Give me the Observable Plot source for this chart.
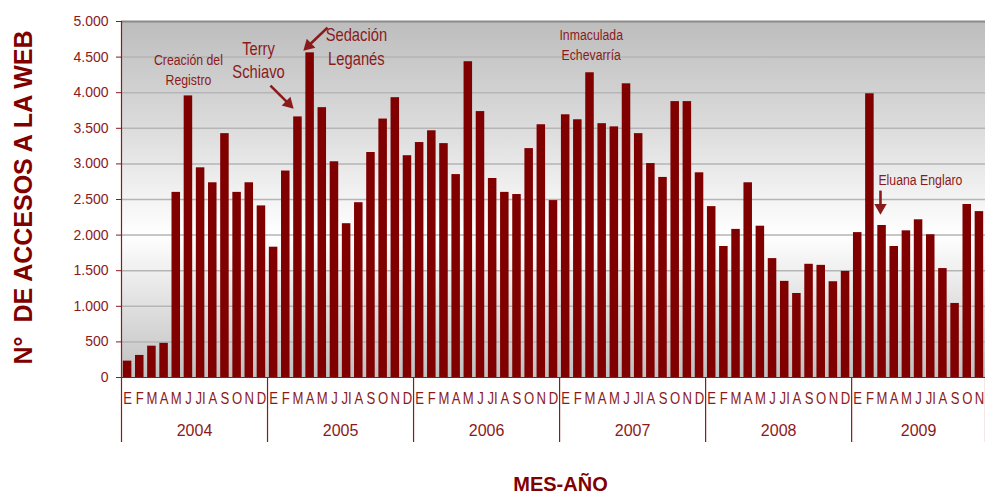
<!DOCTYPE html>
<html>
<head>
<meta charset="utf-8">
<script src="https://cdn.jsdelivr.net/npm/d3@7"></script>
<script src="https://cdn.jsdelivr.net/npm/@observablehq/plot@0.6"></script>
<style>
  html, body { margin: 0; padding: 0; background: #ffffff; }
  #chart { width: 985px; height: 497px; }
</style>
</head>
<body>
<div id="chart"></div>
<script>
// ---- Data ----
const years = ["2004", "2005", "2006", "2007", "2008", "2009"];
const monthLabels = ["E", "F", "M", "A", "M", "J", "JI", "A", "S", "O", "N", "D"];
const accesos2004 = [230, 310, 440, 480, 2600, 3955, 2945, 2735, 3425, 2600, 2735, 2410];
const accesos2005 = [1830, 2900, 3660, 4560, 3790, 3030, 2160, 2455, 3160, 3630, 3930, 3115];
const accesos2006 = [3300, 3465, 3285, 2850, 4435, 3735, 2795, 2600, 2570, 3215, 3550, 2485];
const accesos2007 = [3690, 3620, 4280, 3565, 3520, 4125, 3425, 3005, 2810, 3875, 3875, 2875];
const accesos2008 = [2400, 1840, 2080, 2735, 2125, 1670, 1350, 1180, 1590, 1575, 1345, 1490];
const accesos2009 = [2035, 3985, 2135, 1840, 2060, 2215, 2005, 1530, 1040, 2430, 2330];
const yTicks = [0, 500, 1000, 1500, 2000, 2500, 3000, 3500, 4000, 4500, 5000];

// annotations (data space: month index, value)
const annotationTexts = [
  {label: "Creación del\nRegistro", i: 5, value: 4338, size: 15, lh: 1.33, anchor: "middle"},
  {label: "Terry\nSchiavo", i: 10.76, value: 4472, size: 18, lh: 1.3, anchor: "middle"},
  {label: "Sedación\nLeganés", i: 18.8, value: 4668, size: 18, lh: 1.33, anchor: "middle"},
  {label: "Inmaculada\nEchevarría", i: 38.1, value: 4689, size: 15, lh: 1.33, anchor: "middle"},
  {label: "Eluana Englaro", i: 61.7, value: 2780, size: 15, lh: 1.2, anchor: "start"}
];
// arrow shaft start (i1,v1), arrowhead centre (i2,v2), head rotation in degrees
const annotationArrows = [
  {i1: 11.74, v1: 4100, i2: 13.23, v2: 3846, angle: 135},
  {i1: 16.43, v1: 4914, i2: 14.865, v2: 4659, angle: -134},
  {i1: 61.87, v1: 2625, i2: 61.87, v2: 2388, angle: 180}
];

// ---- Build table ----
const series = [accesos2004, accesos2005, accesos2006, accesos2007, accesos2008, accesos2009];
const data = [];
series.forEach((vals, yi) => {
  vals.forEach((v, mi) => {
    data.push({i: data.length, year: years[yi], month: monthLabels[mi], value: v});
  });
});
const n = data.length;
const yearInfo = years.map((y, yi) => {
  const idx = data.filter(d => d.year === y).map(d => d.i);
  return {year: y, start: d3.min(idx) - 0.5, end: d3.max(idx) + 0.5, center: (d3.min(idx) + d3.max(idx)) / 2};
});
const boundaries = [...yearInfo.map(d => d.start), yearInfo[yearInfo.length - 1].end];

const red = "#8B1A1A";
const barColor = "#800000";
const fmt = d3.formatLocale({decimal: ",", thousands: ".", grouping: [3], currency: ["", "€"]}).format(",");
const narrow = "'Arimo Narrow', 'Liberation Sans', Arial, sans-serif";
const sans = "'Liberation Sans', Arial, sans-serif";

const defsMark = () => {
  const defs = d3.create("svg:defs");
  const lg = defs.append("linearGradient").attr("id", "bgGrad")
    .attr("x1", 0).attr("x2", 0).attr("y1", 0).attr("y2", 1);
  lg.append("stop").attr("offset", "0%").attr("stop-color", "#bdbdbd");
  lg.append("stop").attr("offset", "30%").attr("stop-color", "#dcdcdc");
  lg.append("stop").attr("offset", "60%").attr("stop-color", "#ffffff");
  lg.append("stop").attr("offset", "100%").attr("stop-color", "#c0c0c0");
  return defs.node();
};

const chart = Plot.plot({
  width: 985,
  height: 497,
  marginTop: 21,
  marginBottom: 120,
  marginLeft: 121,
  marginRight: 0,
  x: {type: "linear", domain: [-0.5, n - 0.5], axis: null},
  y: {domain: [0, 5000], axis: null},
  style: {fontFamily: sans, background: "transparent"},
  marks: [
    defsMark,
    Plot.frame({fill: "url(#bgGrad)", stroke: "none"}),
    Plot.ruleY(yTicks.filter(t => t > 0 && t < 5000), {stroke: "#b5b5b5", strokeWidth: 1.5}),
    Plot.ruleY([5000], {stroke: "#8a8a8a", strokeWidth: 2}),
    Plot.rectY(data, {x1: d => d.i - 0.35, x2: d => d.i + 0.35, y: "value", fill: barColor}),
    Plot.ruleY([0], {stroke: red, strokeWidth: 1.2}),
    Plot.ruleX([-0.5], {stroke: red, strokeWidth: 1.2}),
    Plot.axisY({ticks: yTicks, tickFormat: fmt, tickSize: 5, tickPadding: 8, stroke: red, fill: red,
      fontSize: 14, label: null, fontFamily: sans}),
    // year separators
    Plot.axisX({ticks: boundaries, tickSize: 65, tickFormat: () => "", stroke: red, strokeWidth: 1.2, label: null}),
    // month letters
    Plot.axisX({ticks: data.map(d => d.i), tickSize: 0, tickPadding: 15, tickFormat: i => data[i].month,
      fill: red, fontSize: 16, fontFamily: narrow, label: null}),
    // year labels
    Plot.axisX({ticks: yearInfo.map(d => d.center), tickSize: 0, tickPadding: 47,
      tickFormat: c => yearInfo.find(d => d.center === c).year, fill: red, fontSize: 16, label: null}),
    // axis titles
    Plot.text(["N°  DE ACCESOS A LA WEB"], {frameAnchor: "left", text: d => d, rotate: -90, dx: -98, dy: -2,
      fill: barColor, fontSize: 25, fontWeight: "bold", fontFamily: sans, lineAnchor: "middle", textAnchor: "middle"}),
    Plot.text(["MES-AÑO"], {frameAnchor: "bottom", text: d => d, dx: 7, dy: 107,
      fill: barColor, fontSize: 20, fontWeight: "bold", fontFamily: sans, lineAnchor: "middle"}),
    // annotations
    ...annotationTexts.map(a => Plot.text([a], {x: "i", y: "value", text: "label", fill: red,
      fontSize: a.size, lineHeight: a.lh, fontFamily: narrow, textAnchor: a.anchor, lineAnchor: "middle"})),
    Plot.link(annotationArrows, {x1: "i1", y1: "v1", x2: "i2", y2: "v2", stroke: red, strokeWidth: 2.6}),
    Plot.dot(annotationArrows, {x: "i2", y: "v2", symbol: "triangle", r: 4.6, rotate: "angle",
      fill: red, stroke: "none"})
  ]
});

// emulate a narrow typeface: squeeze glyphs horizontally around each text anchor
d3.select(chart).selectAll('g[font-family*="Arimo Narrow"] text').each(function () {
  const t = this.getAttribute("transform");
  if (t) this.setAttribute("transform", t + " scale(0.82,1)");
});

document.getElementById("chart").appendChild(chart);
</script>
</body>
</html>
